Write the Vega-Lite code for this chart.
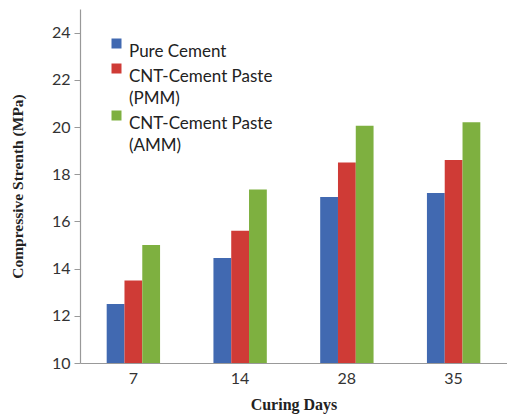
{
  "$schema": "https://vega.github.io/schema/vega-lite/v6.json",
  "width": 427,
  "height": 354,
  "autosize": {"type": "none"},
  "padding": {"left": 80, "top": 9, "right": 0, "bottom": 55},
  "background": "white",
  "data": {
    "values": [
      {"day": "7", "series": "Pure Cement", "value": 12.5},
      {"day": "7", "series": "CNT-Cement Paste (PMM)", "value": 13.5},
      {"day": "7", "series": "CNT-Cement Paste (AMM)", "value": 15.0},
      {"day": "14", "series": "Pure Cement", "value": 14.45},
      {"day": "14", "series": "CNT-Cement Paste (PMM)", "value": 15.6},
      {"day": "14", "series": "CNT-Cement Paste (AMM)", "value": 17.35},
      {"day": "28", "series": "Pure Cement", "value": 17.03},
      {"day": "28", "series": "CNT-Cement Paste (PMM)", "value": 18.5},
      {"day": "28", "series": "CNT-Cement Paste (AMM)", "value": 20.05},
      {"day": "35", "series": "Pure Cement", "value": 17.2},
      {"day": "35", "series": "CNT-Cement Paste (PMM)", "value": 18.6},
      {"day": "35", "series": "CNT-Cement Paste (AMM)", "value": 20.2}
    ]
  },
  "mark": {"type": "bar", "clip": true},
  "encoding": {
    "x": {
      "field": "day", "type": "nominal", "sort": ["7", "14", "28", "35"],
      "scale": {"paddingInner": 0.5, "paddingOuter": 0.25},
      "axis": {
        "title": "Curing Days", "titleFont": "Liberation Serif", "titleFontWeight": "bold",
        "titleFontSize": 16, "titleColor": "#222", "titlePadding": 10,
        "labelAngle": 0, "labelFont": "Lato", "labelFontSize": 16, "labelColor": "#333",
        "labelPadding": 7, "ticks": false, "domainColor": "#999", "domainWidth": 1.2, "grid": false
      }
    },
    "y": {
      "field": "value", "type": "quantitative",
      "scale": {"domain": [10, 25], "zero": false, "nice": false},
      "axis": {
        "title": "Compressive Strenth (MPa)", "titleFont": "Liberation Serif", "titleFontWeight": "bold",
        "titleFontSize": 15.5, "titleColor": "#222", "titlePadding": 26,
        "values": [10, 12, 14, 16, 18, 20, 22, 24],
        "labelFont": "Lato", "labelFontSize": 16, "labelColor": "#333", "labelPadding": 4,
        "tickSize": 6, "tickColor": "#999", "domainColor": "#999", "domainWidth": 1.2, "grid": false
      }
    },
    "xOffset": {"field": "series", "sort": ["Pure Cement", "CNT-Cement Paste (PMM)", "CNT-Cement Paste (AMM)"]},
    "color": {
      "field": "series", "type": "nominal",
      "sort": ["Pure Cement", "CNT-Cement Paste (PMM)", "CNT-Cement Paste (AMM)"],
      "scale": {"domain": ["Pure Cement", "CNT-Cement Paste (PMM)", "CNT-Cement Paste (AMM)"], "range": ["#4169b1", "#cf3b36", "#7eb040"]},
      "legend": {
        "title": null, "orient": "none", "legendX": 28, "legendY": 26,
        "symbolType": "square", "symbolSize": 100, "symbolStrokeWidth": 0, "symbolOpacity": 1,
        "labelFont": "Lato", "labelFontSize": 17, "labelColor": "#222", "labelOffset": 4,
        "labelLimit": 300, "rowPadding": 0, "labelBaseline": "top",
        "labelExpr": "datum.label == 'Pure Cement' ? datum.label : [slice(datum.label, 0, 16), slice(datum.label, 17)]",
        "encode": {"labels": {"update": {"lineHeight": {"value": 22}}}}
      }
    }
  },
  "config": {"view": {"stroke": null}}
}
